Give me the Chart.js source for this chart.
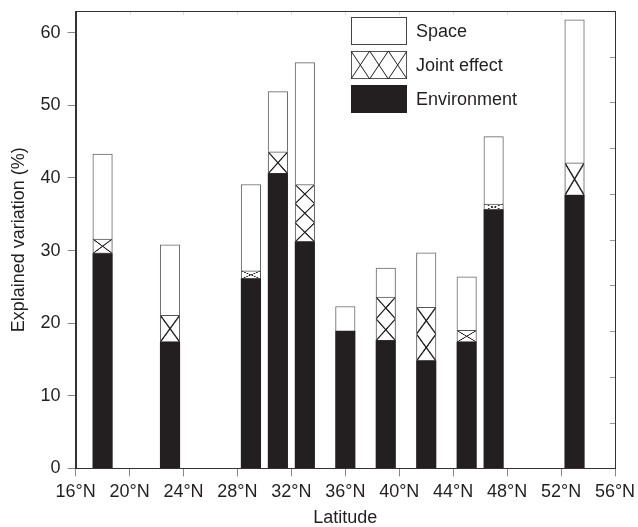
<!DOCTYPE html>
<html>
<head>
<meta charset="utf-8">
<script src="https://cdn.jsdelivr.net/npm/chart.js@4.4.1/dist/chart.umd.min.js"></script>
<style>
    html, body { margin: 0; padding: 0; background: #fff; }
    .wrap { position: relative; width: 638px; height: 527px; }
    #legend {
        position: absolute; left: 351px; top: 17px;
        font-family: "Liberation Sans", Arial, sans-serif; font-size: 18px; color: #231f20;
    }
    .legend-row { display: flex; align-items: center; height: 28px; margin-bottom: 6px; }
    .legend-box { width: 56px; height: 28px; margin-right: 9px; box-sizing: border-box; }
    .legend-box svg { display: block; }
</style>
</head>
<body>
<div class="wrap">
    <canvas id="chart" width="638" height="527"></canvas>
    <div id="legend"></div>
</div>
<script>
const latitudes   = [18, 23, 29, 31, 33, 36, 39, 42, 45, 47, 53];
const environment = [29.6, 17.4, 26.1, 40.6, 31.2, 18.9, 17.6, 14.8, 17.4, 35.6, 37.6];
const jointEffect = [2.0, 3.7, 1.1, 3.0, 7.9, 0, 6.0, 7.4, 1.6, 0.8, 4.5];
const space       = [11.7, 9.7, 11.9, 8.3, 16.8, 3.4, 4.0, 7.5, 7.4, 9.3, 19.7];

const xTicks = [16, 20, 24, 28, 32, 36, 40, 44, 48, 52, 56];
const yTicks = [0, 10, 20, 30, 40, 50, 60];
const rightTicks = [6.3, 12.6, 18.9, 25.2, 31.5, 37.8, 44.1, 50.4, 56.7];

const ink = "#231f20";
const barWidth = 19.5;

Chart.defaults.font.family = "'Liberation Sans', Arial, sans-serif";
Chart.defaults.font.size = 18;
Chart.defaults.color = ink;

function toPoints(values) {
    return latitudes.map((lat, i) => ({ x: lat, y: values[i] }));
}

// X-shaped cross hatch, one tile per bar so the crosses line up with the bar edges
function crossHatch(ctx) {
    if (ctx.type !== "data") return "#fff";
    const { x: xs, y: ys } = ctx.chart.scales;
    if (!xs || !ys) return "#fff";
    const i = ctx.dataIndex;
    const top = ys.getPixelForValue(environment[i] + jointEffect[i]);
    const bottom = ys.getPixelForValue(environment[i]);
    const left = xs.getPixelForValue(latitudes[i]) - barWidth / 2;
    const h = bottom - top;
    if (h <= 0) return "#fff";
    const n = Math.max(1, Math.round(h / 22));

    const tile = document.createElement("canvas");
    tile.width = 40; tile.height = 40;
    const g = tile.getContext("2d");
    g.fillStyle = "#fff";
    g.fillRect(0, 0, 40, 40);
    g.strokeStyle = ink;
    g.lineWidth = 2.4;
    g.beginPath();
    g.moveTo(0, 0); g.lineTo(40, 40);
    g.moveTo(40, 0); g.lineTo(0, 40);
    g.stroke();

    const pattern = g.createPattern(tile, "repeat");
    pattern.setTransform(new DOMMatrix().translate(left, top).scale(barWidth / 40, (h / n) / 40));
    return pattern;
}

const frame = {
    id: "frame",
    afterDraw(chart) {
        const { ctx, chartArea: a, scales } = chart;
        ctx.save();
        ctx.lineWidth = 1;
        ctx.strokeStyle = "#999";
        ctx.beginPath();
        rightTicks.forEach(v => {
            const y = Math.round(scales.y.getPixelForValue(v)) + 0.5;
            ctx.moveTo(a.right, y);
            ctx.lineTo(a.right - 5, y);
        });
        ctx.stroke();
        ctx.strokeStyle = "#ddd";
        ctx.beginPath();
        xTicks.slice(1, -1).forEach(v => {
            const x = Math.round(scales.x.getPixelForValue(v)) + 0.5;
            ctx.moveTo(x, a.top);
            ctx.lineTo(x, a.top + 4);
        });
        ctx.stroke();
        ctx.strokeStyle = "#333";
        ctx.strokeRect(Math.round(a.left) + 0.5, Math.round(a.top) + 0.5,
                       Math.round(a.right - a.left), Math.round(a.bottom - a.top));
        ctx.restore();
    }
};

new Chart(document.getElementById("chart"), {
    type: "bar",
    data: {
        datasets: [
            {
                label: "Environment",
                data: toPoints(environment),
                backgroundColor: ink,
                borderColor: ink,
                borderWidth: 0,
                barThickness: barWidth
            },
            {
                label: "Joint effect",
                data: toPoints(jointEffect),
                backgroundColor: crossHatch,
                borderColor: "#555",
                borderWidth: 1,
                borderSkipped: false,
                barThickness: barWidth
            },
            {
                label: "Space",
                data: toPoints(space),
                backgroundColor: "#fff",
                borderColor: "#666",
                borderWidth: 1,
                borderSkipped: "start",
                barThickness: barWidth
            }
        ]
    },
    options: {
        responsive: false,
        animation: false,
        events: [],
        layout: { padding: { left: 4, right: 23, top: 11, bottom: 0 } },
        plugins: { legend: { display: false }, tooltip: { enabled: false } },
        scales: {
            x: {
                type: "linear",
                stacked: true,
                offset: false,
                min: 16, max: 56,
                afterBuildTicks: scale => { scale.ticks = xTicks.map(v => ({ value: v })); },
                afterFit: scale => { scale.paddingRight = 0; scale.paddingLeft = 0; },
                ticks: { callback: v => v + "°N", padding: 5, maxRotation: 0, autoSkip: false },
                grid: { drawOnChartArea: false, offset: false, tickLength: 8, color: "#888" },
                border: { display: true, color: "#333" },
                title: { display: true, text: "Latitude", font: { size: 18, lineHeight: 1 }, padding: { top: 1, bottom: 0 } }
            },
            y: {
                stacked: true,
                min: 0, max: 63,
                afterBuildTicks: scale => { scale.ticks = yTicks.map(v => ({ value: v })); },
                afterFit: scale => { scale.paddingTop = 0; scale.paddingBottom = 0; },
                ticks: { padding: 7 },
                grid: { drawOnChartArea: false, tickLength: 8, color: "#888" },
                border: { display: true, color: "#333" },
                title: { display: true, text: "Explained variation (%)", font: { size: 18 }, padding: { top: 4, bottom: 4 } }
            }
        }
    },
    plugins: [frame]
});

// legend drawn as HTML in the top right of the plot
const hatchSvg = (() => {
    const w = 56, h = 28, n = 3, cw = w / n;
    let lines = "";
    for (let k = 0; k < n; k++) {
        const x0 = k * cw, x1 = x0 + cw;
        lines += `<line x1="${x0}" y1="0" x2="${x1}" y2="${h}"/><line x1="${x1}" y1="0" x2="${x0}" y2="${h}"/>`;
    }
    return `<svg width="${w}" height="${h}"><rect x="0.5" y="0.5" width="${w - 1}" height="${h - 1}" fill="#fff" stroke="#555"/>` +
           `<g stroke="${ink}" stroke-width="1">${lines}</g></svg>`;
})();

const legendItems = [
    { name: "Space", swatch: `<svg width="56" height="28"><rect x="0.5" y="0.5" width="55" height="27" fill="#fff" stroke="#444"/></svg>` },
    { name: "Joint effect", swatch: hatchSvg },
    { name: "Environment", swatch: `<svg width="56" height="28"><rect x="0" y="0" width="56" height="28" fill="${ink}"/></svg>` }
];
document.getElementById("legend").innerHTML = legendItems.map(item => `
    <div class="legend-row">
        <span class="legend-box">${item.swatch}</span>
        <span>${item.name}</span>
    </div>
`).join("");
</script>
</body>
</html>
